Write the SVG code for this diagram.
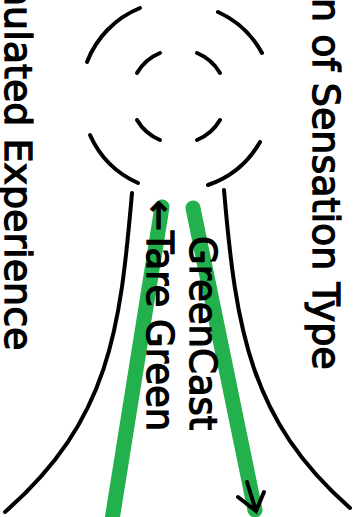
<svg xmlns="http://www.w3.org/2000/svg" width="358" height="517" viewBox="0 0 358 517">
<style>
.ink{fill:none;stroke:#000;stroke-width:4;stroke-linecap:round}
.green{fill:none;stroke:#22b14c;stroke-width:15;stroke-linecap:round}
.lbl{font-family:"DejaVu Sans",sans-serif;font-size:38px;fill:#000;stroke:#000;stroke-width:1.3}
.glbl{font-family:"DejaVu Sans",sans-serif;font-size:37px;fill:#000;stroke:#000;stroke-width:1.3}
</style>
<rect width="358" height="517" fill="#fff"/>
<g id="target">
<path class="ink" d="M87,62 A95,95 0 0 1 140,8"/>
<path class="ink" d="M218,12 A95,95 0 0 1 262,53"/>
<path class="ink" d="M260,142 A95,95 0 0 1 208,185"/>
<path class="ink" d="M138,183 A95,95 0 0 1 90,135"/>
<path class="ink" d="M137,73 A47.5,47.5 0 0 1 160,53"/>
<path class="ink" d="M197,53 A47.5,47.5 0 0 1 220,73"/>
<path class="ink" d="M220,120 A47.5,47.5 0 0 1 197,140"/>
<path class="ink" d="M160,140 A47.5,47.5 0 0 1 137,120"/>
</g>
<g id="funnel">
<path class="ink" d="M132,193 C120,330 110,420 5,512"/>
<path class="ink" d="M224,190 C236,330 250,420 350,508"/>
</g>
<g id="connectors">
<path class="green" d="M162,207 L112,520"/>
<path class="green" d="M193,208 L255,510"/>
<path class="ink" d="M247,482 L256,511 M238,497 L256,511 L264,492"/>
</g>
<g id="label-left"><text class="lbl" transform="translate(5,-18) rotate(90)">nulated Experience</text></g>
<g id="label-right"><text class="lbl" transform="translate(313,-2) rotate(90)">n of Sensation Type</text></g>
<g id="label-tare"><text class="glbl" transform="translate(147,200) rotate(90)">←Tare Green</text></g>
<g id="label-greencast"><text class="glbl" transform="translate(190,236) rotate(90)">GreenCast</text></g>
</svg>
